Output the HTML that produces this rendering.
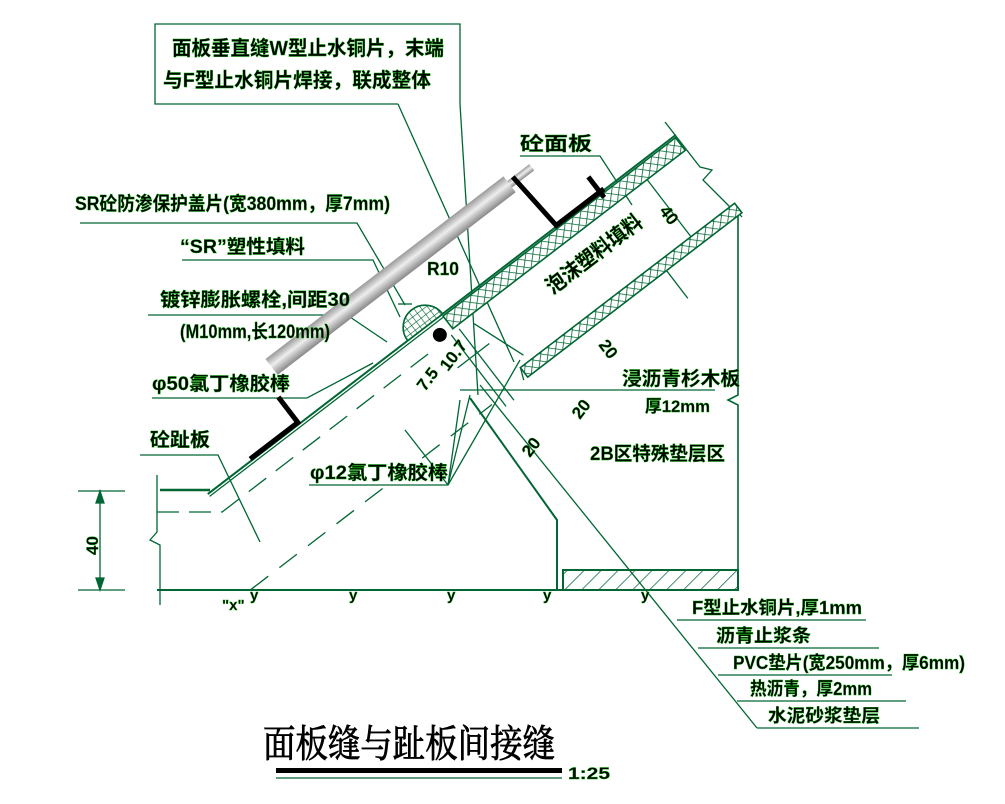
<!DOCTYPE html>
<html><head><meta charset="utf-8"><style>
html,body{margin:0;padding:0;background:#fff;}
svg{display:block;}
text{font-family:"Liberation Sans","Noto Sans CJK SC",sans-serif;font-weight:bold;fill:#000;stroke:#0a0;stroke-width:0.4;}
</style></head><body>
<svg width="1005" height="804" viewBox="0 0 1005 804" xmlns="http://www.w3.org/2000/svg">
<defs>
<pattern id="xh" width="7" height="7" patternUnits="userSpaceOnUse" patternTransform="rotate(45)">
<rect width="7" height="7" fill="#fff"/>
<path d="M0 0H7M0 0V7" stroke="#063" stroke-width="1.6"/>
</pattern>
<pattern id="grid" width="6" height="6" patternUnits="userSpaceOnUse">
<rect width="6" height="6" fill="#fff"/>
<path d="M0 0H6M0 0V6" stroke="#063" stroke-width="1.2"/>
</pattern>
<pattern id="diag" width="12" height="12" patternUnits="userSpaceOnUse" patternTransform="rotate(45)">
<rect width="12" height="12" fill="#fff"/>
<path d="M0 0V12" stroke="#063" stroke-width="1.5"/>
</pattern>
<linearGradient id="rod" x1="0" y1="0" x2="0" y2="1">
<stop offset="0" stop-color="#999"/><stop offset="0.45" stop-color="#eee"/><stop offset="1" stop-color="#888"/>
</linearGradient>
</defs>

<g stroke="#063" stroke-width="1.3" fill="none">
<path d="M398 104 H155 V24 H460 V104"/>
<line x1="398" y1="104" x2="514" y2="362"/>
<line x1="460" y1="104" x2="478" y2="395"/>
<path d="M157 475 V532 L150 540 L160 545 V605"/>
<line x1="157" y1="590" x2="738" y2="590" stroke-width="2"/>
<path d="M160 490 H210" stroke-width="2.5"/>
<path d="M157 512 H222" stroke-dasharray="22 10"/>
<path d="M665 122 L700 167 L712 170 L703 180 L738 215"/>
<path d="M738 215 V395 L728 400 L738 405 V590" stroke-width="1.6"/>
<path d="M733 207 L742 217"/>
<rect x="563" y="570" width="175" height="20" fill="url(#diag)" stroke-width="2"/>
<path d="M470 398 L557 520 V590" stroke-width="2"/>
<line x1="480" y1="385" x2="757" y2="728"/>
<line x1="677" y1="620" x2="866" y2="620"/>
<line x1="698" y1="648" x2="879" y2="648"/>
<line x1="718" y1="675" x2="892" y2="675"/>
<line x1="737" y1="701" x2="906" y2="701"/>
<line x1="757" y1="728" x2="919" y2="728"/>
<path d="M80 223 H357 L405 305"/>
<path d="M182 260 H373 L400 317"/>
<path d="M148 315 H347 L387 342"/>
<path d="M152 398 H307 L373 363"/>
<path d="M140 455 H218 L260 542"/>
<path d="M309 485 H448 L470 395"/>
<path d="M448 485 L460 400 M448 485 L405 430 M448 485 L520 360"/>
<path d="M520 156 H600 L632 205"/>
<path d="M460 390 H715"/>
<path d="M398 304 H412"/>
<path d="M100 490 V590 M78 491 H125 M78 590 H125"/>
<path d="M100 491 l-4 12 h8z M100 590 l-4 -12 h8z" fill="#063"/>
</g>

<g transform="translate(447,313) rotate(-37.5)">
<g stroke="#063" stroke-width="1.3" fill="none">
<rect x="-5" y="0" width="293" height="16" fill="url(#xh)" stroke-width="1.6"/>
<rect x="25" y="88" width="270" height="12" fill="url(#xh)" stroke-width="1.6"/>
<line x1="-300" y1="-2" x2="290" y2="-2" stroke-width="2"/>
<line x1="-300" y1="1" x2="-5" y2="1"/>
<line x1="-300" y1="21" x2="-40" y2="21" stroke-dasharray="22 12"/>
<line x1="-324" y1="100" x2="-20" y2="100" stroke-dasharray="22 14"/>
<line x1="25" y1="88" x2="20" y2="100"/>
<line x1="15" y1="25" x2="35" y2="80"/>
<line x1="240" y1="16" x2="240" y2="88"/>
<line x1="200" y1="100" x2="200" y2="135"/>
<line x1="-10" y1="20" x2="-10" y2="110"/>
<line x1="0" y1="20" x2="0" y2="110"/>
<line x1="-25" y1="50" x2="15" y2="50"/>
</g>
<path d="M-48 -2 A22 22 0 0 1 -4 -2 Z" fill="url(#grid)" stroke="#063" stroke-width="1.6"/>
<circle cx="-19" cy="13" r="7" fill="#000"/>
<rect x="-172" y="-74" width="300" height="20" fill="url(#rod)"/>
<rect x="128" y="-68" width="28" height="8" fill="url(#rod)"/>
<polyline points="135,-68 140,-3 200,-3" fill="none" stroke="#000" stroke-width="5"/>
<line x1="195" y1="-22" x2="195" y2="4" stroke="#000" stroke-width="5"/>
<polyline points="-185,-36 -185,-4 -245,-4" fill="none" stroke="#000" stroke-width="5"/>
<text x="95" y="50" font-size="21" textLength="115" lengthAdjust="spacingAndGlyphs">泡沫塑料填料</text>
<text x="230" y="48" font-size="17" transform="rotate(90 230 48)">40</text>
</g>

<text x="172" y="55" font-size="20" textLength="272" lengthAdjust="spacingAndGlyphs">面板垂直缝W型止水铜片，末端</text>
<text x="163" y="87" font-size="20" textLength="268" lengthAdjust="spacingAndGlyphs">与F型止水铜片焊接，联成整体</text>
<text x="75" y="210" font-size="19" textLength="315" lengthAdjust="spacingAndGlyphs">SR砼防渗保护盖片(宽380mm，厚7mm)</text>
<text x="180" y="253" font-size="19" textLength="125" lengthAdjust="spacingAndGlyphs">“SR”塑性填料</text>
<text x="160" y="306" font-size="19" textLength="190" lengthAdjust="spacingAndGlyphs">镀锌膨胀螺栓,间距30</text>
<text x="180" y="338" font-size="19" textLength="150" lengthAdjust="spacingAndGlyphs">(M10mm,长120mm)</text>
<text x="152" y="390" font-size="19" textLength="138" lengthAdjust="spacingAndGlyphs">φ50氯丁橡胶棒</text>
<text x="150" y="446" font-size="19" textLength="60" lengthAdjust="spacingAndGlyphs">砼趾板</text>
<text x="310" y="479" font-size="19" textLength="138" lengthAdjust="spacingAndGlyphs">φ12氯丁橡胶棒</text>
<text x="427" y="275" font-size="18" textLength="32" lengthAdjust="spacingAndGlyphs">R10</text>
<text x="520" y="150" font-size="19" textLength="72" lengthAdjust="spacingAndGlyphs">砼面板</text>
<text x="622" y="385" font-size="19" textLength="118" lengthAdjust="spacingAndGlyphs">浸沥青杉木板</text>
<text x="645" y="412" font-size="17" textLength="65" lengthAdjust="spacingAndGlyphs">厚12mm</text>
<text x="590" y="460" font-size="19" textLength="135" lengthAdjust="spacingAndGlyphs">2B区特殊垫层区</text>
<text x="692" y="614" font-size="18" textLength="170" lengthAdjust="spacingAndGlyphs">F型止水铜片,厚1mm</text>
<text x="716" y="642" font-size="18" textLength="95" lengthAdjust="spacingAndGlyphs">沥青止浆条</text>
<text x="733" y="669" font-size="18" textLength="232" lengthAdjust="spacingAndGlyphs">PVC垫片(宽250mm，厚6mm)</text>
<text x="750" y="695" font-size="18" textLength="122" lengthAdjust="spacingAndGlyphs">热沥青，厚2mm</text>
<text x="768" y="722" font-size="18" textLength="112" lengthAdjust="spacingAndGlyphs">水泥砂浆垫层</text>
<text x="98" y="555" font-size="17" transform="rotate(-90 98 555)">40</text>
<text x="598" y="345" font-size="17" transform="rotate(53 598 345)">20</text>
<text x="530" y="458" font-size="17" transform="rotate(-53 530 458)">20</text>
<text x="580" y="420" font-size="17" transform="rotate(-53 580 420)">20</text>
<text x="425" y="392" font-size="17" transform="rotate(-53 425 392)">7.5</text>
<text x="448" y="372" font-size="17" transform="rotate(-53 448 372)">10.7</text>
<text x="222" y="610" font-size="15">"x"</text>
<text x="250" y="600" font-size="15">y</text>
<text x="349" y="600" font-size="15">y</text>
<text x="447" y="600" font-size="15">y</text>
<text x="543" y="600" font-size="15">y</text>
<text x="641" y="600" font-size="15">y</text>
<text x="263" y="757" font-size="38" textLength="292" lengthAdjust="spacingAndGlyphs" style="font-family:'Liberation Serif','Noto Serif CJK SC',serif;font-weight:normal;stroke:#000;stroke-width:0.8">面板缝与趾板间接缝</text>
<rect x="276" y="768" width="286" height="5" fill="#000"/>
<line x1="276" y1="778" x2="562" y2="778" stroke="#063" stroke-width="1.3"/>
<text x="568" y="779" font-size="17" textLength="42" lengthAdjust="spacingAndGlyphs">1:25</text>
</svg>
</body></html>
